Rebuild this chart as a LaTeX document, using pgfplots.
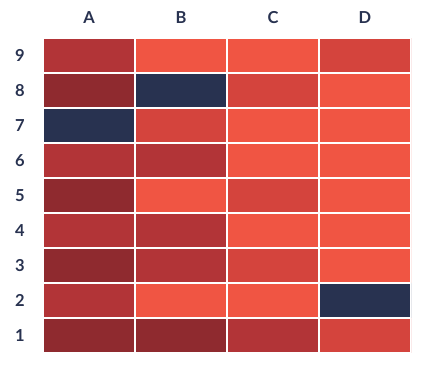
\documentclass[border=0pt]{standalone}
\usepackage{pgfplots}
\pgfplotsset{compat=1.18}
\usepackage{fontspec}
\setmainfont{Lato}
\definecolor{navy}{RGB}{40,50,80}
\definecolor{labc}{RGB}{40,50,80}
\begin{document}
\begin{tikzpicture}[x=1pt,y=1pt]
\useasboundingbox (0,0) rectangle (425,366);
\begin{axis}[
  at={(43pt,13pt)}, anchor=south west,
  scale only axis, width=368pt, height=315pt,
  xmin=-0.5, xmax=3.5, ymin=0.5, ymax=9.5,
  enlargelimits=false,
  axis line style={draw=none},
  major tick length=0pt,
  tick style={draw=none},
  xtick={0,1,2,3}, xticklabels={A,B,C,D},
  ytick={1,...,9}, yticklabels={1,2,3,4,5,6,7,8,9},
  xticklabel pos=upper,
  xticklabel style={anchor=center, yshift=20pt, font=\fontsize{16.5}{18}\selectfont\bfseries, text=labc},
  yticklabel style={anchor=center, xshift=-23pt, font=\fontsize{16.5}{18}\selectfont\bfseries, text=labc},
  colormap={hm}{rgb255=(40,50,80) rgb255=(143,42,47) rgb255=(178,52,55) rgb255=(212,68,61) rgb255=(240,85,67)},
  colormap access=direct,
]
\addplot[matrix plot*, mesh/cols=4, point meta=explicit, draw=white, line width=1.6pt] table[meta=c] {
x y c
0 1 1
1 1 1
2 1 2
3 1 3
0 2 2
1 2 4
2 2 4
3 2 0
0 3 1
1 3 2
2 3 3
3 3 4
0 4 2
1 4 2
2 4 4
3 4 4
0 5 1
1 5 4
2 5 3
3 5 4
0 6 2
1 6 2
2 6 4
3 6 4
0 7 0
1 7 3
2 7 4
3 7 4
0 8 1
1 8 0
2 8 3
3 8 4
0 9 2
1 9 4
2 9 4
3 9 3
};
\end{axis}
\end{tikzpicture}
\end{document}
